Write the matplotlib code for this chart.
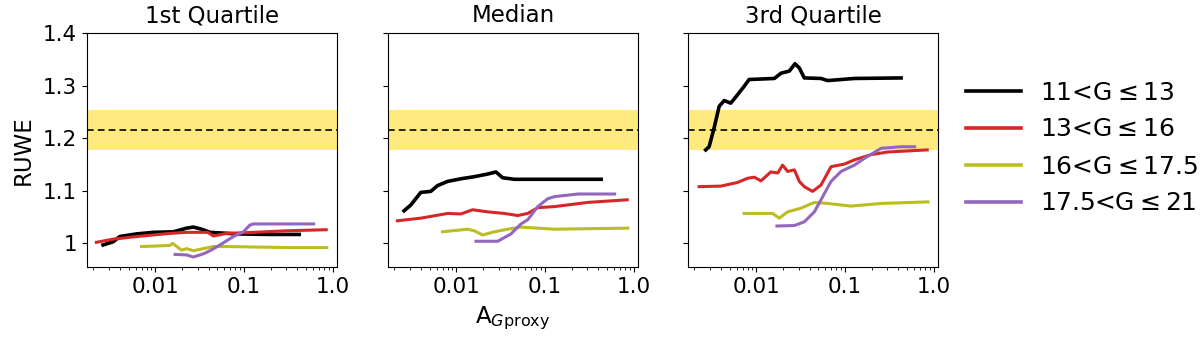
#!/usr/bin/env python3
"""RUWE vs extinction proxy, split by G-magnitude bin and quartile."""

import matplotlib
matplotlib.use("Agg")
import matplotlib.pyplot as plt
from matplotlib.ticker import FixedLocator, FuncFormatter, LogLocator, NullFormatter


PANEL_TITLES = ["1st Quartile", "Median", "3rd Quartile"]
BIN_LABELS = [r"11<G$\leq$13", r"13<G$\leq$16", r"16<G$\leq$17.5", r"17.5<G$\leq$21"]
BIN_COLORS = ["black", "#d62728", "#bcbd22", "#9467bd"]

RUWE_REF = 1.216
RUWE_BAND = (1.178, 1.253)

# --- 1st quartile ---
Q1_BLACK_X = [0.00258, 0.00335, 0.00398, 0.00615, 0.0095, 0.016, 0.0226, 0.0269, 0.0333, 0.0414, 0.083, 0.197, 0.42]
Q1_BLACK_Y = [0.997, 1.003, 1.013, 1.018, 1.021, 1.022, 1.029, 1.031, 1.027, 1.021, 1.018, 1.017, 1.017]
Q1_RED_X = [0.00217, 0.00335, 0.00615, 0.0146, 0.0226, 0.039, 0.0452, 0.064, 0.128, 0.305, 0.847]
Q1_RED_Y = [1.002, 1.008, 1.013, 1.019, 1.021, 1.021, 1.014, 1.019, 1.021, 1.024, 1.026]
Q1_YEL_X = [0.007, 0.0146, 0.0157, 0.0198, 0.0226, 0.0269, 0.0348, 0.0452, 0.064, 0.305, 0.86]
Q1_YEL_Y = [0.994, 0.996, 1.000, 0.987, 0.990, 0.986, 0.990, 0.994, 0.994, 0.992, 0.992]
Q1_PUR_X = [0.0167, 0.0226, 0.0269, 0.0348, 0.0414, 0.0537, 0.076, 0.0986, 0.117, 0.128, 0.61]
Q1_PUR_Y = [0.979, 0.978, 0.974, 0.980, 0.986, 0.997, 1.013, 1.022, 1.035, 1.037, 1.037]

# --- median ---
Q2_BLACK_X = [0.00258, 0.00307, 0.00398, 0.00516, 0.00615, 0.008, 0.0113, 0.016, 0.0226, 0.028, 0.0333, 0.0452, 0.43]
Q2_BLACK_Y = [1.062, 1.073, 1.097, 1.099, 1.110, 1.118, 1.123, 1.127, 1.132, 1.136, 1.125, 1.122, 1.122]
Q2_RED_X = [0.00217, 0.00398, 0.008, 0.0113, 0.0153, 0.0226, 0.0348, 0.0493, 0.064, 0.083, 0.128, 0.305, 0.847]
Q2_RED_Y = [1.043, 1.048, 1.057, 1.056, 1.064, 1.060, 1.057, 1.053, 1.057, 1.068, 1.070, 1.078, 1.083]
Q2_YEL_X = [0.007, 0.0134, 0.016, 0.0198, 0.0269, 0.038, 0.0537, 0.128, 0.86]
Q2_YEL_Y = [1.022, 1.027, 1.024, 1.016, 1.022, 1.027, 1.031, 1.027, 1.029]
Q2_PUR_X = [0.0167, 0.0293, 0.0414, 0.0537, 0.064, 0.083, 0.1076, 0.128, 0.235, 0.61]
Q2_PUR_Y = [1.004, 1.004, 1.018, 1.037, 1.045, 1.070, 1.085, 1.089, 1.094, 1.094]

# --- 3rd quartile ---
Q3_BLACK_X = [0.00269, 0.00294, 0.00335, 0.00382, 0.00435, 0.00516, 0.00615, 0.0073, 0.0083, 0.016,
              0.019, 0.0236, 0.0273, 0.0306, 0.0348, 0.0537, 0.064, 0.128, 0.43]
Q3_BLACK_Y = [1.178, 1.184, 1.220, 1.261, 1.272, 1.267, 1.283, 1.299, 1.312, 1.314,
              1.324, 1.328, 1.342, 1.334, 1.315, 1.314, 1.310, 1.314, 1.315]
Q3_RED_X = [0.00227, 0.00398, 0.00615, 0.008, 0.0095, 0.0113, 0.0146, 0.0175, 0.0198, 0.0226, 0.0269,
            0.0306, 0.0348, 0.0432, 0.0537, 0.0697, 0.0986, 0.128, 0.197, 0.305, 0.847]
Q3_RED_Y = [1.108, 1.109, 1.116, 1.124, 1.126, 1.119, 1.136, 1.134, 1.149, 1.137, 1.140,
            1.118, 1.108, 1.099, 1.111, 1.146, 1.151, 1.159, 1.169, 1.174, 1.178]
Q3_YEL_X = [0.0073, 0.0153, 0.0182, 0.0226, 0.0319, 0.0452, 0.064, 0.117, 0.256, 0.863]
Q3_YEL_Y = [1.057, 1.057, 1.048, 1.060, 1.067, 1.078, 1.076, 1.071, 1.076, 1.079]
Q3_PUR_X = [0.0171, 0.0269, 0.0348, 0.0452, 0.0537, 0.0697, 0.0904, 0.128, 0.166, 0.256, 0.43, 0.61]
Q3_PUR_Y = [1.033, 1.034, 1.041, 1.060, 1.083, 1.118, 1.137, 1.149, 1.162, 1.181, 1.184, 1.184]

PANELS = [
    [(Q1_BLACK_X, Q1_BLACK_Y), (Q1_RED_X, Q1_RED_Y), (Q1_YEL_X, Q1_YEL_Y), (Q1_PUR_X, Q1_PUR_Y)],
    [(Q2_BLACK_X, Q2_BLACK_Y), (Q2_RED_X, Q2_RED_Y), (Q2_YEL_X, Q2_YEL_Y), (Q2_PUR_X, Q2_PUR_Y)],
    [(Q3_BLACK_X, Q3_BLACK_Y), (Q3_RED_X, Q3_RED_Y), (Q3_YEL_X, Q3_YEL_Y), (Q3_PUR_X, Q3_PUR_Y)],
]

X_TICKS = [0.01, 0.1, 1.0]
X_TICK_LABELS = ["0.01", "0.1", "1.0"]
Y_TICKS = [1.0, 1.1, 1.2, 1.3, 1.4]


def xtick_label(v, pos):
    v = round(v, 3)
    return X_TICK_LABELS[X_TICKS.index(v)] if v in X_TICKS else ""


def main() -> None:
    fig = plt.figure(figsize=(12, 3.42), dpi=100)
    lefts = [87 / 1200, 388 / 1200, 688 / 1200]
    width = 250 / 1200
    bottom = 75 / 342
    height = 233.7 / 342

    axes = []
    for i, left in enumerate(lefts):
        ax = fig.add_axes([left, bottom, width, height])
        ax.axhspan(*RUWE_BAND, color="gold", alpha=0.5, lw=0, zorder=0)
        ax.axhline(RUWE_REF, color="black", ls="--", lw=1.2, dashes=(4, 2.5), zorder=1)
        for (xs, ys), color, label in zip(PANELS[i], BIN_COLORS, BIN_LABELS):
            lw = 2.6 if color == "black" else 2.2
            ax.plot(xs, ys, color=color, lw=lw, label=label, zorder=3)

        ax.set_xscale("log")
        ax.set_xlim(0.0017, 1.12)
        ax.set_ylim(0.955, 1.4)
        ax.xaxis.set_major_locator(FixedLocator(X_TICKS))
        ax.xaxis.set_major_formatter(FuncFormatter(xtick_label))
        ax.xaxis.set_minor_locator(LogLocator(base=10, subs=range(2, 10), numticks=20))
        ax.xaxis.set_minor_formatter(NullFormatter())
        ax.yaxis.set_major_locator(FixedLocator(Y_TICKS))
        ax.yaxis.set_major_formatter(FuncFormatter(lambda v, p: f"{v:g}"))
        ax.tick_params(labelsize=15.5)
        if i > 0:
            ax.tick_params(labelleft=False)
        ax.set_title(PANEL_TITLES[i], fontsize=16.5, pad=8)
        axes.append(ax)

    axes[0].set_ylabel("RUWE", fontsize=16.5, labelpad=6)
    axes[1].set_xlabel(r"A$_{G\mathrm{proxy}}$", fontsize=16.5, labelpad=6)

    handles, labels = axes[0].get_legend_handles_labels()
    fig.legend(
        handles,
        labels,
        loc="upper left",
        bbox_to_anchor=(943 / 1200, 1 - 58 / 342),
        frameon=False,
        fontsize=18,
        handlelength=2.2,
        handletextpad=0.78,
        labelspacing=0.52,
    )
    for line in fig.legends[0].get_lines():
        line.set_linewidth(2.6)

    fig.savefig("out.png", dpi=100)
    plt.close(fig)


if __name__ == "__main__":
    main()
